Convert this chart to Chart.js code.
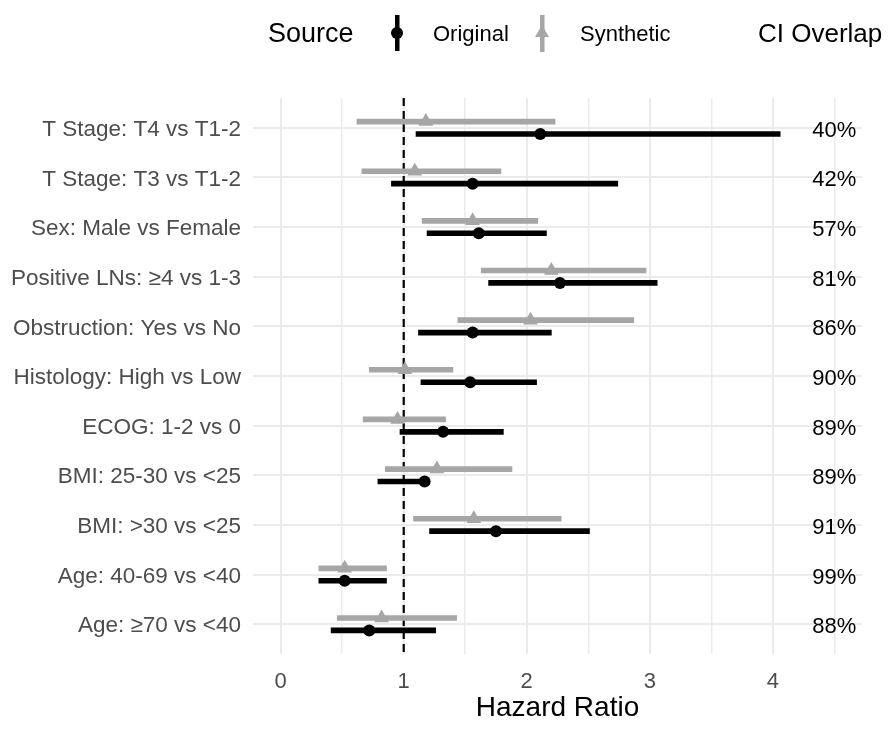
<!DOCTYPE html>
<html lang="en">
<head>
    <meta charset="UTF-8">
    <title>Hazard Ratio: Original vs Synthetic</title>
    <script src="https://cdn.jsdelivr.net/npm/chart.js"></script>
    <style>
        body { margin: 0; background: #fff; }
        canvas { display: block; }
    </style>
</head>
<body>
    <canvas id="forestChart" width="891" height="730"></canvas>

    <script>
        // rows, top to bottom
        const rows = [
            'T Stage: T4 vs T1-2',
            'T Stage: T3 vs T1-2',
            'Sex: Male vs Female',
            'Positive LNs: \u22654 vs 1-3',
            'Obstruction: Yes vs No',
            'Histology: High vs Low',
            'ECOG: 1-2 vs 0',
            'BMI: 25-30 vs <25',
            'BMI: >30 vs <25',
            'Age: 40-69 vs <40',
            'Age: \u226570 vs <40'
        ];

        const origEst  = [2.11, 1.56, 1.61, 2.27, 1.56, 1.54, 1.32, 1.17, 1.75, 0.52, 0.72];
        const origLow  = [1.10, 0.90, 1.19, 1.69, 1.12, 1.14, 0.97, 0.79, 1.21, 0.31, 0.41];
        const origHigh = [4.06, 2.74, 2.16, 3.06, 2.20, 2.08, 1.81, 1.19, 2.51, 0.86, 1.26];

        const synEst  = [1.18, 1.09, 1.56, 2.20, 2.03, 1.01, 0.95, 1.27, 1.57, 0.52, 0.82];
        const synLow  = [0.62, 0.66, 1.15, 1.63, 1.44, 0.72, 0.67, 0.85, 1.08, 0.31, 0.46];
        const synHigh = [2.23, 1.79, 2.09, 2.97, 2.87, 1.40, 1.34, 1.88, 2.28, 0.86, 1.43];

        const overlap = [40, 42, 57, 81, 86, 90, 89, 89, 91, 99, 88];

        const xTicks = [0, 1, 2, 3, 4];

        const FONT = "'Liberation Sans', Arial, sans-serif";
        const ORIG_COLOR = '#000000';
        const SYN_COLOR = '#A6A6A6';
        const GRID = '#EBEBEB';
        const DODGE = 0.125;
        const TEXT_X = 4.5;   // where the overlap labels sit on the x scale

        const rowPos = (i, off) => i + 1 + off;

        const synBars = rows.map((r, i) => ({ x: [synLow[i], synHigh[i]], y: rowPos(i, -DODGE) }));
        const origBars = rows.map((r, i) => ({ x: [origLow[i], origHigh[i]], y: rowPos(i, DODGE) }));
        const synPts = rows.map((r, i) => ({ x: synEst[i], y: rowPos(i, -DODGE) }));
        const origPts = rows.map((r, i) => ({ x: origEst[i], y: rowPos(i, DODGE) }));

        // dashed reference line at HR = 1
        const refLine = {
            id: 'refLine',
            beforeDatasetsDraw(chart) {
                const { ctx, chartArea, scales } = chart;
                const x = scales.x.getPixelForValue(1);
                ctx.save();
                ctx.strokeStyle = '#000';
                ctx.lineWidth = 2.2;
                ctx.setLineDash([8, 5]);
                ctx.beginPath();
                ctx.moveTo(x, chartArea.top);
                ctx.lineTo(x, chartArea.bottom);
                ctx.stroke();
                ctx.restore();
            }
        };

        // legend on top + overlap labels on the right
        const extras = {
            id: 'extras',
            afterDraw(chart) {
                const { ctx, scales } = chart;
                ctx.save();
                ctx.textBaseline = 'middle';
                ctx.textAlign = 'left';
                ctx.fillStyle = '#000';

                ctx.font = '27px ' + FONT;
                ctx.fillText('Source', 268, 35);

                // original key
                ctx.fillStyle = ORIG_COLOR;
                ctx.fillRect(395, 15, 4.5, 36);
                ctx.beginPath();
                ctx.arc(397, 33, 6, 0, Math.PI * 2);
                ctx.fill();
                ctx.font = '22px ' + FONT;
                ctx.fillStyle = '#000';
                ctx.fillText('Original', 433, 35);

                // synthetic key
                ctx.fillStyle = SYN_COLOR;
                ctx.fillRect(540, 15, 4.5, 37);
                ctx.beginPath();
                ctx.moveTo(542, 25);
                ctx.lineTo(549, 37);
                ctx.lineTo(535, 37);
                ctx.closePath();
                ctx.fill();
                ctx.fillStyle = '#000';
                ctx.fillText('Synthetic', 580, 35);

                ctx.font = '26px ' + FONT;
                ctx.fillText('CI Overlap', 758, 35);

                // overlap percentages
                ctx.font = '22px ' + FONT;
                ctx.textAlign = 'center';
                const tx = scales.x.getPixelForValue(TEXT_X);
                overlap.forEach((v, i) => {
                    ctx.fillText(v + '%', tx, scales.y.getPixelForValue(i + 1) + 3);
                });
                ctx.restore();
            }
        };

        const ctx = document.getElementById('forestChart').getContext('2d');

        new Chart(ctx, {
            type: 'scatter',
            data: {
                datasets: [
                    {
                        label: 'Original',
                        data: origPts,
                        backgroundColor: ORIG_COLOR,
                        borderColor: ORIG_COLOR,
                        pointStyle: 'circle',
                        pointRadius: 6,
                        borderWidth: 0,
                        order: 0
                    },
                    {
                        label: 'Synthetic',
                        data: synPts,
                        backgroundColor: SYN_COLOR,
                        borderColor: SYN_COLOR,
                        pointStyle: 'triangle',
                        pointRadius: 8.5,
                        borderWidth: 0,
                        order: 1
                    },
                    {
                        type: 'bar',
                        label: 'Original CI',
                        indexAxis: 'y',
                        data: origBars,
                        backgroundColor: ORIG_COLOR,
                        barThickness: 5,
                        grouped: false,
                        borderWidth: 0,
                        order: 2
                    },
                    {
                        type: 'bar',
                        label: 'Synthetic CI',
                        indexAxis: 'y',
                        data: synBars,
                        backgroundColor: SYN_COLOR,
                        barThickness: 5,
                        grouped: false,
                        borderWidth: 0,
                        order: 3
                    }
                ]
            },
            options: {
                responsive: false,
                animation: false,
                layout: { padding: { left: 0, right: 29, top: 98, bottom: 0 } },
                plugins: {
                    legend: { display: false },
                    tooltip: { enabled: false }
                },
                scales: {
                    x: {
                        type: 'linear',
                        position: 'bottom',
                        min: -0.225,
                        max: 4.725,
                        offset: false,
                        border: { display: false },
                        grid: {
                            color: GRID,
                            lineWidth: c => (xTicks.includes(c.tick.value) ? 2 : 1.5),
                            drawTicks: false,
                            offset: false
                        },
                        ticks: {
                            stepSize: 0.5,
                            includeBounds: false,
                            autoSkip: false,
                            maxRotation: 0,
                            padding: 15,
                            color: '#4D4D4D',
                            font: { family: FONT, size: 22 },
                            callback: v => (xTicks.includes(v) ? String(v) : '')
                        },
                        title: {
                            display: true,
                            text: 'Hazard Ratio',
                            color: '#000',
                            font: { family: FONT, size: 28 },
                            padding: { top: 0, bottom: 5 }
                        },
                        afterFit: s => { s.height = 76; }
                    },
                    y: {
                        type: 'linear',
                        reverse: true,
                        min: 0.4,
                        max: 11.6,
                        offset: false,
                        border: { display: false },
                        grid: {
                            color: GRID,
                            lineWidth: 2,
                            drawTicks: false,
                            offset: false
                        },
                        ticks: {
                            stepSize: 1,
                            includeBounds: false,
                            autoSkip: false,
                            padding: 12,
                            labelOffset: 2,
                            color: '#4D4D4D',
                            font: { family: FONT, size: 22.5 },
                            callback: v => rows[v - 1] || ''
                        },
                        afterFit: s => { s.width = 253; }
                    }
                }
            },
            plugins: [refLine, extras]
        });
    </script>
</body>
</html>
